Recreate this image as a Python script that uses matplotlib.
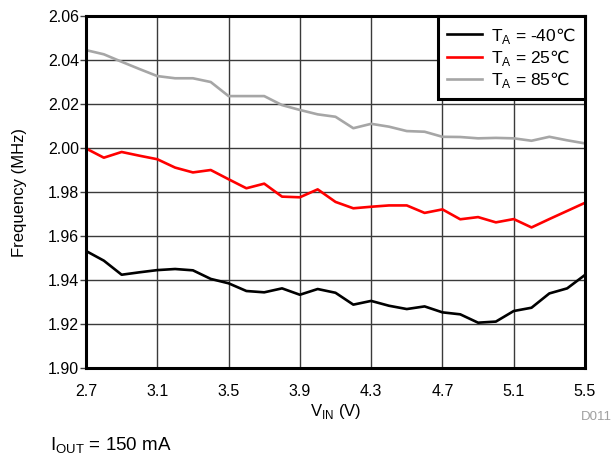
import matplotlib
matplotlib.use("Agg")
import matplotlib.pyplot as plt
import numpy as np

plt.rcParams['font.family'] = ['Liberation Sans', 'DejaVu Sans']
plt.rcParams['mathtext.fontset'] = 'dejavusans'

vin = [2.7, 2.8, 2.9, 3.0, 3.1, 3.2, 3.3, 3.4, 3.5, 3.6, 3.7, 3.8, 3.9, 4.0, 4.1,
       4.2, 4.3, 4.4, 4.5, 4.6, 4.7, 4.8, 4.9, 5.0, 5.1, 5.2, 5.3, 5.4, 5.5]

# frequency in MHz per ambient temperature
f_m40 = [1.9532, 1.9488, 1.9424, 1.9435, 1.9445, 1.9450, 1.9444, 1.9405, 1.9385, 1.9350,
         1.9344, 1.9362, 1.9333, 1.9359, 1.9342, 1.9288, 1.9305, 1.9283, 1.9268, 1.9280,
         1.9253, 1.9244, 1.9206, 1.9211, 1.9259, 1.9274, 1.9339, 1.9362, 1.9423]
f_25 = [1.9998, 1.9956, 1.9982, 1.9965, 1.9949, 1.9911, 1.9889, 1.9900, 1.9858, 1.9817,
        1.9838, 1.9779, 1.9776, 1.9812, 1.9755, 1.9726, 1.9733, 1.9739, 1.9739, 1.9705,
        1.9721, 1.9676, 1.9686, 1.9662, 1.9677, 1.9639, 1.9677, 1.9714, 1.9751]
f_85 = [2.0445, 2.0426, 2.0392, 2.0359, 2.0327, 2.0317, 2.0317, 2.0300, 2.0236, 2.0236,
        2.0236, 2.0195, 2.0173, 2.0153, 2.0142, 2.0090, 2.0110, 2.0097, 2.0077, 2.0074,
        2.0051, 2.0050, 2.0044, 2.0046, 2.0044, 2.0033, 2.0051, 2.0035, 2.0021]

labels = ['T$_\\mathregular{A}$ = -40$\\mathrm{\u2103}$',
          'T$_\\mathregular{A}$ = 25$\\mathrm{\u2103}$',
          'T$_\\mathregular{A}$ = 85$\\mathrm{\u2103}$']
colors = ['black', '#ff0000', '#a6a6a6']

xticks = [2.7, 3.1, 3.5, 3.9, 4.3, 4.7, 5.1, 5.5]
yticks = [1.90, 1.92, 1.94, 1.96, 1.98, 2.00, 2.02, 2.04, 2.06]

fig = plt.figure(figsize=(6.13, 4.55), dpi=100)
ax = fig.add_axes([0.1403, 0.1912, 0.814, 0.7736])

for ys, lab, c in zip([f_m40, f_25, f_85], labels, colors):
    ax.plot(vin, ys, color=c, lw=1.9, label=lab)

ax.set_xlim(2.7, 5.5)
ax.set_ylim(1.90, 2.06)
ax.set_xticks(xticks)
ax.set_xticklabels(['%.1f' % v for v in xticks])
ax.set_yticks(yticks)
ax.set_yticklabels(['%.2f' % v for v in yticks])
ax.tick_params(axis='x', length=0, labelsize=11.5, pad=11.5)
ax.tick_params(axis='y', length=4.3, width=1, color='#404040', labelsize=11.5, pad=0.8)
ax.grid(True, color='#3a3a3a', lw=1.0)
for s in ax.spines.values():
    s.set_linewidth(2.2)

ax.set_xlabel('V$_\\mathregular{IN}$ (V)', fontsize=12)
ax.xaxis.set_label_coords(0.5, -0.097)
ax.set_ylabel('Frequency (MHz)', fontsize=12)
ax.yaxis.set_label_coords(-0.118, 0.5)

leg = ax.legend(loc='upper right', fontsize=12.5, fancybox=False, framealpha=1,
                edgecolor='black', borderaxespad=0, handlelength=2.0,
                handletextpad=0.5, labelspacing=0.12, borderpad=0.55)
leg.get_frame().set_linewidth(2.2)

fig.text(0.998, 0.077, 'D011', fontsize=9.5, color='#a0a0a0', ha='right', va='baseline')
fig.text(0.0816, 0.009, 'I$_\\mathregular{OUT}$ = 150 mA', fontsize=13.5, va='baseline')

fig.savefig('out.png', dpi=100)
